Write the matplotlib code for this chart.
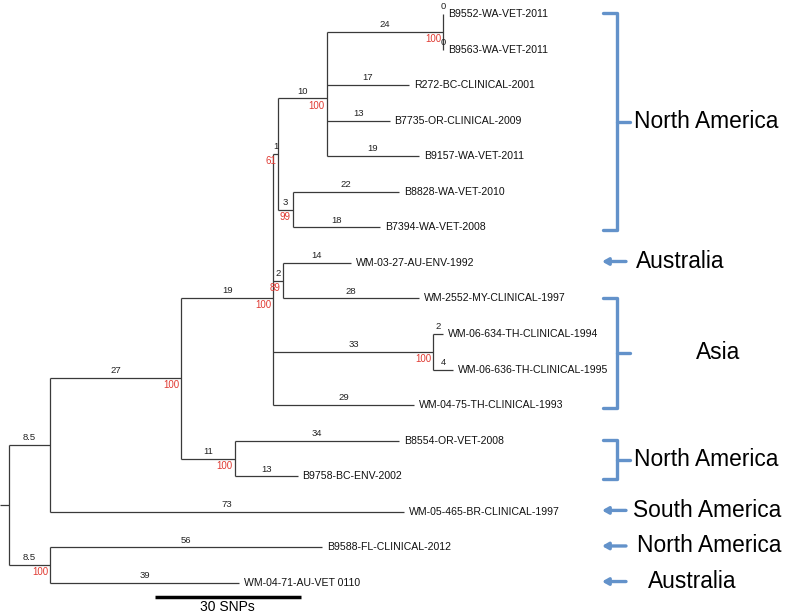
"""Phylogenetic tree of isolates with region annotations."""

import matplotlib.pyplot as plt

plt.rcParams['font.family'] = ['Liberation Sans', 'DejaVu Sans']

# tree in parent-pointer form, listed in pre-order (children in drawing order)
node_name = ['root', 'A', 'B', 'C', 'E', 'H', 'J',
             'B9552-WA-VET-2011', 'B9563-WA-VET-2011',
             'R272-BC-CLINICAL-2001', 'B7735-OR-CLINICAL-2009', 'B9157-WA-VET-2011',
             'I', 'B8828-WA-VET-2010', 'B7394-WA-VET-2008',
             'F', 'WM-03-27-AU-ENV-1992', 'WM-2552-MY-CLINICAL-1997',
             'G', 'WM-06-634-TH-CLINICAL-1994', 'WM-06-636-TH-CLINICAL-1995',
             'WM-04-75-TH-CLINICAL-1993',
             'D', 'B8554-OR-VET-2008', 'B9758-BC-ENV-2002',
             'WM-05-465-BR-CLINICAL-1997',
             'K', 'B9588-FL-CLINICAL-2012', 'WM-04-71-AU-VET 0110']
node_parent = [None, 'root', 'A', 'B', 'C', 'E', 'H',
               'J', 'J',
               'H', 'H', 'H',
               'E', 'I', 'I',
               'C', 'F', 'F',
               'C', 'G', 'G',
               'C',
               'B', 'D', 'D',
               'A',
               'root', 'K', 'K']
branch_len = [0, 8.5, 27, 19, 1, 10, 24,
              0, 0,
              17, 13, 19,
              3, 22, 18,
              2, 14, 28,
              33, 2, 4,
              29,
              11, 34, 13,
              73,
              8.5, 56, 39]
bootstrap = [None, None, 100, 100, 61, 100, 100,
             None, None,
             None, None, None,
             99, None, None,
             89, None, None,
             100, None, None,
             None,
             100, None, None,
             None,
             100, None, None]

# geographic groups, by first and last leaf index
region_name = ['North America', 'Australia', 'Asia', 'North America',
               'South America', 'North America', 'Australia']
region_first = [0, 7, 8, 12, 14, 15, 16]
region_last = [6, 7, 11, 13, 14, 15, 16]
region_text_px = [634, 636, 696, 634, 633, 637, 648]

scale_len = 30

# layout: pixel <-> data
PX_PER_SNP = 4.85
ROOT_PX = 9
LEAF0_PX, LEAF_STEP = 14, 35.56


def px2x(p):
    return (p - ROOT_PX) / PX_PER_SNP


def px2y(p):
    return (p - LEAF0_PX) / LEAF_STEP


children = {n: [] for n in node_name}
for n, p in zip(node_name, node_parent):
    if p is not None:
        children[p].append(n)
length = dict(zip(node_name, branch_len))
support = dict(zip(node_name, bootstrap))
parent = dict(zip(node_name, node_parent))

xpos, ypos = {}, {}
leaf_i = 0
for n in node_name:
    xpos[n] = 0.0 if parent[n] is None else xpos[parent[n]] + length[n]
    if not children[n]:
        ypos[n] = leaf_i
        leaf_i += 1
for n in reversed(node_name):
    if children[n]:
        ypos[n] = sum(ypos[c] for c in children[n]) / len(children[n])

fig = plt.figure(figsize=(8, 6.16), dpi=100)
ax = fig.add_axes([0, 0, 1, 1])
ax.set_xlim(px2x(0), px2x(800))
ax.set_ylim(px2y(616), px2y(0))
ax.axis('off')

line_kw = dict(color='#3a3a3a', lw=0.9, solid_capstyle='butt')

# root stem
ax.plot([px2x(0), 0], [ypos['root']] * 2, **line_kw)

for n in node_name:
    if parent[n] is not None:
        ax.plot([xpos[parent[n]], xpos[n]], [ypos[n]] * 2, **line_kw)
        ax.annotate(f'{length[n]:g}', ((xpos[parent[n]] + xpos[n]) / 2, ypos[n]),
                    xytext=(0, 2), textcoords='offset points',
                    ha='center', va='bottom', fontsize=6.8, color='#222222')
    if children[n]:
        ys = [ypos[c] for c in children[n]]
        ax.plot([xpos[n]] * 2, [min(ys), max(ys)], **line_kw)
    else:
        ax.annotate(n, (xpos[n], ypos[n]), xytext=(3.5, 0), textcoords='offset points',
                    ha='left', va='center', fontsize=7.6, color='#111111')
    if support[n] is not None:
        ax.annotate(str(support[n]), (xpos[n], ypos[n]), xytext=(-1.5, -1.5),
                    textcoords='offset points', ha='right', va='top',
                    fontsize=7, color='#e03a32')

# scale bar
sb_x0 = px2x(155)
ax.plot([sb_x0, sb_x0 + scale_len], [px2y(597)] * 2, color='black', lw=2.5,
        solid_capstyle='butt')
ax.text(sb_x0 + scale_len / 2, px2y(607), f'{scale_len} SNPs',
        ha='center', va='center', fontsize=10)

# region brackets / arrows
blue = '#6392ca'
for name, i0, i1, tx in zip(region_name, region_first, region_last, region_text_px):
    if i1 > i0:
        top, bot = i0 - 0.02, i1 + 0.08
        mid = (top + bot) / 2
        ax.plot([px2x(603), px2x(617), px2x(617), px2x(603)], [top, top, bot, bot],
                color=blue, lw=2.4, solid_joinstyle='round', solid_capstyle='round')
        ax.plot([px2x(617), px2x(630)], [mid, mid], color=blue, lw=2.4,
                solid_capstyle='round')
        ty = mid
    else:
        ty = i0 - 0.04
        ax.annotate('', xy=(px2x(602), ty), xytext=(px2x(626), ty),
                    arrowprops=dict(arrowstyle='-|>,head_length=0.35,head_width=0.2',
                                    color=blue, lw=2.4, shrinkA=0, shrinkB=0))
    ax.text(px2x(tx), ty, name, ha='left', va='center', fontsize=16.4, color='black')

fig.savefig('out.png', dpi=100)
